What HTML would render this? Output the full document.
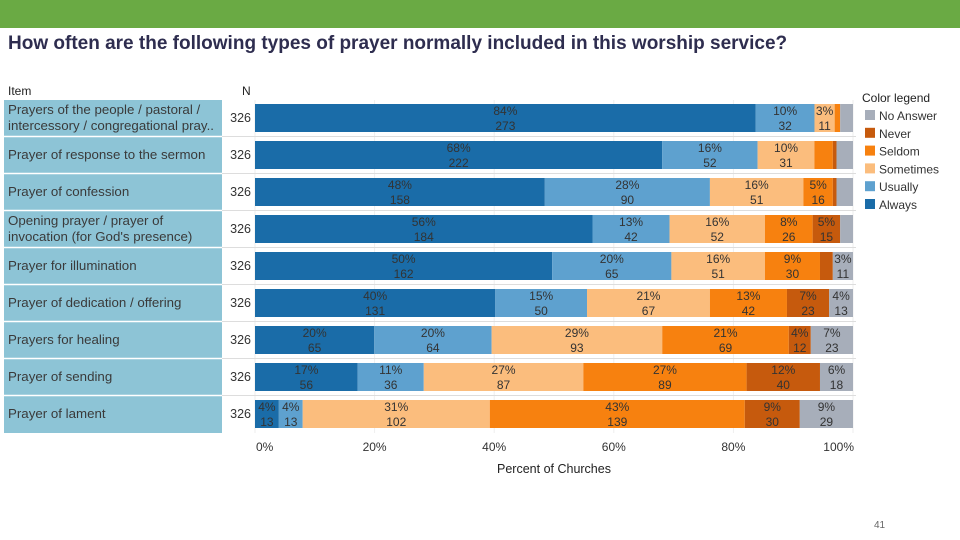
<!DOCTYPE html>
<html><head><meta charset="utf-8"><style>
body{margin:0;width:960px;height:540px;background:#fff;overflow:hidden;font-family:"Liberation Sans",sans-serif;position:relative}
.abs{position:absolute}
</style></head><body>
<div class="abs" style="left:0;top:0;width:960px;height:28px;background:#6aaa44"></div>
<div class="abs" style="left:8px;top:33px;font-size:19px;font-weight:bold;color:#2e2d4f;white-space:nowrap">How often are the following types of prayer normally included in this worship service?</div>
<div class="abs" style="left:8px;top:84px;font-size:12px;color:#222">Item</div>
<div class="abs" style="left:242px;top:84px;font-size:12px;color:#222">N</div>
<div class="abs" style="left:874px;top:520px;font-size:10px;color:#666">41</div>
<svg class="abs" style="left:0;top:0" width="960" height="540" id="chart"></svg>
<script>
const items=["Prayers of the people / pastoral /|intercessory / congregational pray..","Prayer of response to the sermon","Prayer of confession","Opening prayer / prayer of|invocation (for God's presence)","Prayer for illumination","Prayer of dedication / offering","Prayers for healing","Prayer of sending","Prayer of lament"];
const nValues=[326,326,326,326,326,326,326,326,326];
const always=[273,222,158,184,162,131,65,56,13];
const usually=[32,52,90,42,65,50,64,36,13];
const sometimes=[11,31,51,52,51,67,93,87,102];
const seldom=[3,10,16,26,30,42,69,89,139];
const never=[0,2,2,15,7,23,12,40,30];
const noAnswer=[7,9,9,7,11,13,23,18,29];
const categories=["Always","Usually","Sometimes","Seldom","Never","No Answer"];
const ticks=[0,20,40,60,80,100];
const colors=["#1a6ca8","#5ea1cf","#fbbd7d","#f7810f","#c65a0d","#a7aeba"];
const series=[always,usually,sometimes,seldom,never,noAnswer];
const NS="http://www.w3.org/2000/svg";
const svg=document.getElementById('chart');
const x0=255,x1=853,top0=104,pitch=37,bh=28;
const xs=p=>x0+(x1-x0)*p/100;
const ys=i=>top0+i*pitch;
function mk(t,a){const e=document.createElementNS(NS,t);for(const k in a)e.setAttribute(k,a[k]);svg.appendChild(e);return e;}
let e=mk('rect',{x:4,y:100,width:218,height:333,fill:'#8dc4d6'});


ticks.forEach(t=>{const g=mk('line',{x1:xs(t),x2:xs(t),y1:100,y2:433,stroke:'#eee'});

});
items.forEach((it,i)=>{
 const y=ys(i);
 if(i>0){const s=mk('line',{x1:4,x2:222,y1:y-4.5,y2:y-4.5,stroke:'#fff','stroke-width':1.5});
 
 
 const s2=mk('line',{x1:222,x2:856,y1:y-4.5,y2:y-4.5,stroke:'#ddd','stroke-width':1});
 
 }
 const lines=it.split('|');
 lines.forEach((ln,j)=>{const t=mk('text',{x:8,y:lines.length>1?y+10+j*16:y+18,'font-size':13.3,fill:'#3a3a3a'});t.textContent=ln;
 
 });
 const nt=mk('text',{x:251,y:y+18,'font-size':12.5,fill:'#333','text-anchor':'end'});nt.textContent=nValues[i];
 
 
 let cum=0;
 series.forEach((ser,k)=>{
  const v=ser[i],p=v/nValues[i]*100;
  const r=mk('rect',{x:xs(cum),y:y,width:Math.max(0,xs(cum+p)-xs(cum)),height:bh,fill:colors[k]});
  
  
  const pr=Math.round(p);
  if(v>=11){const cx=(xs(cum)+xs(cum+p))/2;
   const t1=mk('text',{x:cx,y:y+11,'font-size':12,fill:'#333','text-anchor':'middle'});t1.textContent=pr+'%';
   
   
   const t2=mk('text',{x:cx,y:y+26,'font-size':12,fill:'#333','text-anchor':'middle'});t2.textContent=v;
   
   }
  cum+=p;
 });
});
ticks.forEach(t=>{let x=xs(t);let anc='middle';if(t===0){x+=1;anc='start';}if(t===100){x+=1;anc='end';}
 const tl=mk('text',{x:x,y:451,'font-size':12,fill:'#333','text-anchor':anc});tl.textContent=t+'%';
 
 });
const at=mk('text',{x:554,y:473,'font-size':12.5,fill:'#222','text-anchor':'middle'});at.textContent='Percent of Churches';


const lt=mk('text',{x:862,y:102,'font-size':12,fill:'#222'});lt.textContent='Color legend';


for(let k=5;k>=0;k--){const idx=5-k;const y=110+idx*17.8;
 const sq=mk('rect',{x:865,y:y,width:10,height:10,fill:colors[k]});
 
 
 const t=mk('text',{x:879,y:y+10,'font-size':12,fill:'#333'});t.textContent=categories[k];
 
 }
</script>
</body></html>
